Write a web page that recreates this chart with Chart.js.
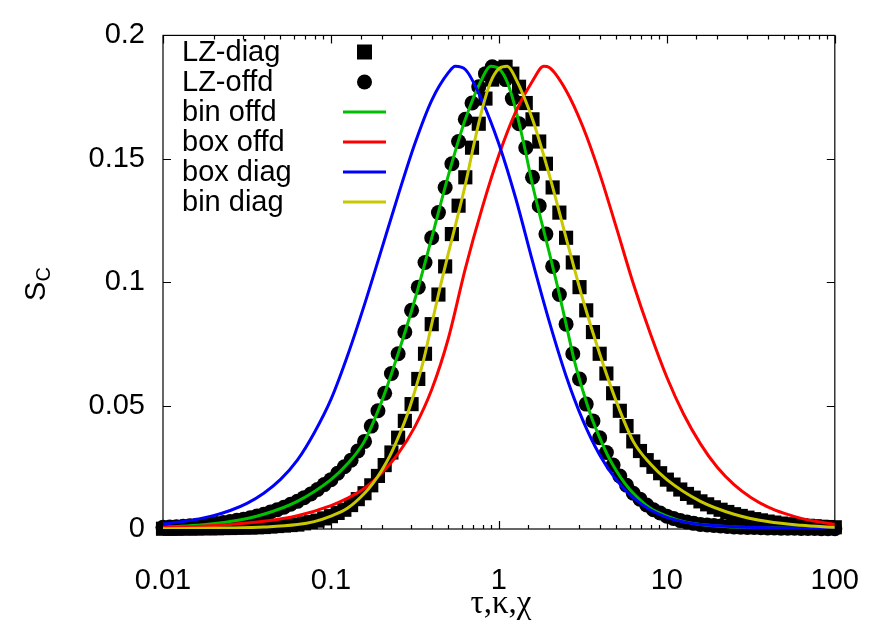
<!DOCTYPE html>
<html>
<head>
<meta charset="utf-8">
<script src="https://cdn.jsdelivr.net/npm/chart.js@4.4.0/dist/chart.umd.min.js"></script>
<style>
  html, body { margin: 0; padding: 0; background: #fff; }
</style>
</head>
<body>
<canvas id="scChart" width="894" height="626"></canvas>
<script>
// ------- data -------

// log-spaced tau grid of the LZ points (25 per decade)
const tau = [
  0.01, 0.01096, 0.01202, 0.01318, 0.01445, 0.01585, 0.01738, 0.01905, 0.02089, 0.02291,
  0.02512, 0.02754, 0.0302, 0.03311, 0.03631, 0.03981, 0.04365, 0.04786, 0.05248, 0.05754,
  0.0631, 0.06918, 0.07586, 0.08318, 0.0912,
  0.1, 0.1096, 0.1202, 0.1318, 0.1445, 0.1585, 0.1738, 0.1905, 0.2089, 0.2291,
  0.2512, 0.2754, 0.302, 0.3311, 0.3631, 0.3981, 0.4365, 0.4786, 0.5248, 0.5754,
  0.631, 0.6918, 0.7586, 0.8318, 0.912,
  1, 1.096, 1.202, 1.318, 1.445, 1.585, 1.738, 1.905, 2.089, 2.291,
  2.512, 2.754, 3.02, 3.311, 3.631, 3.981, 4.365, 4.786, 5.248, 5.754,
  6.31, 6.918, 7.586, 8.318, 9.12,
  10, 10.96, 12.02, 13.18, 14.45, 15.85, 17.38, 19.05, 20.89, 22.91,
  25.12, 27.54, 30.2, 33.11, 36.31, 39.81, 43.65, 47.86, 52.48, 57.54,
  63.1, 69.18, 75.86, 83.18, 91.2,
  100
];

const lzDiag = [
  0.0001, 0.0001, 0.0001, 0.0002, 0.0002, 0.0002, 0.0003, 0.0003, 0.0003, 0.0004,
  0.0004, 0.0005, 0.0006, 0.0006, 0.0007, 0.0008, 0.0010, 0.0012, 0.0014, 0.0016,
  0.0018, 0.0023, 0.0028, 0.0034, 0.0043, 0.0052, 0.0065, 0.0078, 0.0097, 0.0121,
  0.0145, 0.0177, 0.0215, 0.0259, 0.0310, 0.0370, 0.0438, 0.0506, 0.0608, 0.0710,
  0.0830, 0.0950, 0.1064, 0.1195, 0.1310, 0.1425, 0.1545, 0.1642, 0.1744, 0.1821,
  0.1865, 0.1873, 0.1845, 0.1792, 0.1726, 0.1660, 0.1570, 0.1480, 0.1384, 0.1282,
  0.1180, 0.1080, 0.0980, 0.0886, 0.0798, 0.0710, 0.0630, 0.0550, 0.0479, 0.0417,
  0.0355, 0.0316, 0.0279, 0.0252, 0.0226, 0.0200, 0.0180, 0.0160, 0.0142, 0.0127,
  0.0112, 0.0100, 0.0088, 0.0078, 0.0069, 0.0060, 0.0053, 0.0046, 0.0040, 0.0035,
  0.0030, 0.0026, 0.0022, 0.0019, 0.0017, 0.0015, 0.0013, 0.0011, 0.0009, 0.0008,
  0.0007
];

const lzOffd = [
  0.0007, 0.0008, 0.0009, 0.0011, 0.0013, 0.0015, 0.0017, 0.0019, 0.0022, 0.0026,
  0.0030, 0.0035, 0.0040, 0.0046, 0.0053, 0.0060, 0.0069, 0.0078, 0.0088, 0.0100,
  0.0112, 0.0127, 0.0142, 0.0160, 0.0180, 0.0200, 0.0226, 0.0252, 0.0279, 0.0316,
  0.0355, 0.0417, 0.0479, 0.0550, 0.0630, 0.0710, 0.0798, 0.0886, 0.0980, 0.1080,
  0.1180, 0.1282, 0.1384, 0.1480, 0.1570, 0.1660, 0.1726, 0.1792, 0.1845, 0.1873,
  0.1865, 0.1821, 0.1744, 0.1642, 0.1545, 0.1425, 0.1310, 0.1195, 0.1064, 0.0950,
  0.0830, 0.0710, 0.0608, 0.0506, 0.0438, 0.0370, 0.0310, 0.0259, 0.0215, 0.0177,
  0.0145, 0.0121, 0.0097, 0.0078, 0.0065, 0.0052, 0.0043, 0.0034, 0.0028, 0.0023,
  0.0018, 0.0016, 0.0014, 0.0012, 0.0010, 0.0008, 0.0007, 0.0006, 0.0006, 0.0005,
  0.0004, 0.0004, 0.0003, 0.0003, 0.0003, 0.0002, 0.0002, 0.0002, 0.0001, 0.0001,
  0.0001
];

const binOffdX = [0.01, 0.0158, 0.0251, 0.0398, 0.0631, 0.1, 0.1259, 0.158, 0.2, 0.251,
  0.316, 0.398, 0.501, 0.631, 0.794, 0.891, 1, 1.122, 1.259, 1.413, 1.585, 1.778, 1.995,
  2.239, 2.512, 2.818, 3.162, 3.548, 3.981, 4.467, 5.012, 5.623, 6.31, 7.943, 10, 12.59,
  15.85, 25.12, 39.81, 100];
const binOffdY = [0.0007, 0.0015, 0.0030, 0.0060, 0.0112, 0.0200, 0.0265, 0.0355, 0.0515, 0.071,
  0.093, 0.118, 0.1435, 0.166, 0.1825, 0.1875, 0.1865, 0.181, 0.170, 0.1555, 0.1395, 0.1255, 0.112,
  0.098, 0.083, 0.068, 0.056, 0.0455, 0.037, 0.0295, 0.0235, 0.0185, 0.0145, 0.0085, 0.0052, 0.003,
  0.0018, 0.0008, 0.0004, 0.0001];

const binDiagX = [0.01, 0.0251, 0.0398, 0.0631, 0.0794, 0.1, 0.1259, 0.1585, 0.1778, 0.1995,
  0.2239, 0.2512, 0.2818, 0.3162, 0.3548, 0.3981, 0.4467, 0.5012, 0.5623, 0.631, 0.7079,
  0.7943, 0.8913, 1, 1.122, 1.259, 1.585, 1.995, 2.512, 3.162, 3.981, 5.012, 6.31, 7.943,
  10, 15.85, 25.12, 39.81, 63.1, 100];
const binDiagY = [0.0001, 0.0004, 0.0008, 0.0018, 0.003, 0.0052, 0.0085, 0.0145, 0.0185, 0.0235,
  0.0295, 0.037, 0.0455, 0.056, 0.068, 0.083, 0.098, 0.112, 0.1255, 0.1395, 0.1555,
  0.170, 0.181, 0.1865, 0.1875, 0.1825, 0.166, 0.1435, 0.118, 0.093, 0.071, 0.0515, 0.0355, 0.0265,
  0.0200, 0.0112, 0.0060, 0.0030, 0.0015, 0.0007];

const boxDiagX = [0.01, 0.01259, 0.01585, 0.01995, 0.02512, 0.03162, 0.03981, 0.05012, 0.0631,
  0.07943, 0.1, 0.1259, 0.1585, 0.1995, 0.2512, 0.3162, 0.3981, 0.5012, 0.55, 0.631, 0.7943,
  1, 1.259, 1.585, 1.995, 2.512, 3.162, 3.981, 5.012, 6.31, 7.943, 10, 12.59, 15.85, 25.12,
  39.81, 100];
const boxDiagY = [0.0020, 0.0028, 0.0039, 0.0054, 0.0075, 0.0104, 0.0145, 0.0201, 0.0279,
  0.0389, 0.0525, 0.0705, 0.0910, 0.1130, 0.1352, 0.1562, 0.1737, 0.1850, 0.1875, 0.1862, 0.1735,
  0.1560, 0.1340, 0.1085, 0.0840, 0.0620, 0.0440, 0.0300, 0.0198, 0.0127, 0.0078, 0.0047, 0.0029,
  0.0018, 0.0009, 0.0005, 0.0003];

const boxOffdX = [0.01, 0.01585, 0.02512, 0.03981, 0.0631, 0.1, 0.1259, 0.1585, 0.1995, 0.2512,
  0.3162, 0.3981, 0.5012, 0.631, 0.7943, 1, 1.259, 1.585, 1.85, 1.995, 2.512, 3.162, 3.981,
  5.012, 6.31, 7.943, 10, 12.59, 15.85, 19.95, 25.12, 31.62, 39.81, 50.12, 63.1, 79.43, 100];
const boxOffdY = [0.0006, 0.0010, 0.0018, 0.0031, 0.0054, 0.0095, 0.0125, 0.0165, 0.0225, 0.0305,
  0.0415, 0.0565, 0.0775, 0.1055, 0.1300, 0.1515, 0.1690, 0.1815, 0.1875, 0.1870, 0.1777, 0.1630,
  0.1440, 0.1220, 0.0995, 0.0795, 0.0615, 0.0465, 0.0345, 0.0250, 0.0180, 0.0128, 0.0090, 0.0063,
  0.0043, 0.0029, 0.0019];

const decadeLabels = ['0.01', '0.1', '1', '10', '100'];
const yTicks = [0, 0.05, 0.1, 0.15, 0.2];

// ------- helpers -------
const pts = (xs, ys) => xs.map((v, i) => ({x: v, y: ys[i]}));
const FONT = '"Liberation Sans", Arial, sans-serif';

function lineSet(label, xs, ys, color, order) {
  return {
    label: label,
    data: pts(xs, ys),
    showLine: true,
    borderColor: color,
    backgroundColor: color,
    borderWidth: 3,
    pointRadius: 0,
    cubicInterpolationMode: 'monotone',
    order: order
  };
}

// frame + inward gnuplot style ticks
const framePlugin = {
  id: 'frame',
  beforeDatasetsDraw(chart) {
    const {ctx, chartArea: a, scales: {x, y}} = chart;
    ctx.save();
    ctx.strokeStyle = '#000';
    ctx.lineWidth = 1.2;
    ctx.beginPath();
    x.ticks.forEach(t => {
      const px = Math.round(x.getPixelForValue(t.value)) + 0.5;
      const l10 = Math.log10(t.value);
      const len = Math.abs(l10 - Math.round(l10)) < 1e-6 ? 8 : 4;
      ctx.moveTo(px, a.bottom); ctx.lineTo(px, a.bottom - len);
      ctx.moveTo(px, a.top); ctx.lineTo(px, a.top + len);
    });
    y.ticks.forEach(t => {
      const py = Math.round(y.getPixelForValue(t.value)) + 0.5;
      ctx.moveTo(a.left, py); ctx.lineTo(a.left + 8, py);
      ctx.moveTo(a.right, py); ctx.lineTo(a.right - 8, py);
    });
    ctx.stroke();
    ctx.strokeRect(a.left, a.top, a.right - a.left, a.bottom - a.top);
    ctx.restore();
  }
};

// key in the top left corner, text left and sample right
const keyPlugin = {
  id: 'key',
  afterDatasetsDraw(chart) {
    const ctx = chart.ctx;
    ctx.save();
    ctx.font = '29px ' + FONT;
    ctx.textBaseline = 'middle';
    ctx.textAlign = 'left';
    chart.data.datasets.forEach((ds, i) => {
      const cy = 52 + i * 30;
      ctx.fillStyle = '#000';
      ctx.fillText(ds.label, 182, cy + 1);
      const cx = 364.5;
      if (ds.showLine) {
        ctx.strokeStyle = ds.borderColor;
        ctx.lineWidth = 3;
        ctx.beginPath();
        ctx.moveTo(343, cy); ctx.lineTo(386, cy);
        ctx.stroke();
      } else if (ds.pointStyle === 'rect') {
        ctx.fillRect(cx - 7.5, cy - 7.5, 15, 15);
      } else {
        ctx.beginPath();
        ctx.arc(cx, cy, 7.5, 0, Math.PI * 2);
        ctx.fill();
      }
    });
    ctx.restore();
  }
};

// axis titles: S_C (rotated, subscript) and tau,kappa,chi
const titlePlugin = {
  id: 'titles',
  afterDraw(chart) {
    const ctx = chart.ctx;
    ctx.save();
    ctx.fillStyle = '#000';
    ctx.font = '33px "Liberation Serif", "Times New Roman", serif';
    ctx.textAlign = 'center';
    ctx.textBaseline = 'alphabetic';
    ctx.fillText('\u03c4,\u03ba,\u03c7', 501, 613);

    ctx.translate(45, 284);
    ctx.rotate(-Math.PI / 2);
    ctx.textAlign = 'left';
    ctx.font = '29px ' + FONT;
    const wS = ctx.measureText('S').width;
    ctx.font = '20px ' + FONT;
    const wC = ctx.measureText('C').width;
    const x0 = -(wS + wC) / 2;
    ctx.font = '29px ' + FONT;
    ctx.fillText('S', x0, 0);
    ctx.font = '20px ' + FONT;
    ctx.fillText('C', x0 + wS, 5);
    ctx.restore();
  }
};

const data = {
  datasets: [
    {
      label: 'LZ-diag',
      data: pts(tau, lzDiag),
      showLine: false,
      pointStyle: 'rect',
      pointRadius: 10,
      pointBorderWidth: 0,
      backgroundColor: '#000',
      borderColor: '#000',
      clip: false,
      order: 6
    },
    {
      label: 'LZ-offd',
      data: pts(tau, lzOffd),
      showLine: false,
      pointStyle: 'circle',
      pointRadius: 7.5,
      pointBorderWidth: 0,
      backgroundColor: '#000',
      borderColor: '#000',
      clip: false,
      order: 5
    },
    lineSet('bin offd', binOffdX, binOffdY, '#00c000', 4),
    lineSet('box offd', boxOffdX, boxOffdY, '#ff0000', 3),
    lineSet('box diag', boxDiagX, boxDiagY, '#0000ff', 2),
    lineSet('bin diag', binDiagX, binDiagY, '#c8c800', 1)
  ]
};

const config = {
  type: 'scatter',
  data: data,
  options: {
    responsive: false,
    animation: false,
    events: [],
    layout: { padding: { top: 30, right: 54, left: 0, bottom: 0 } },
    plugins: {
      legend: { display: false },
      tooltip: { enabled: false },
      title: { display: false }
    },
    scales: {
      x: {
        type: 'logarithmic',
        position: 'bottom',
        min: 0.01,
        max: 100,
        grid: { display: false, drawTicks: false },
        border: { display: false },
        ticks: {
          autoSkip: false,
          maxRotation: 0,
          padding: 35,
          color: '#000',
          font: { family: FONT, size: 29 },
          callback: (v) => {
            const l = Math.log10(v);
            if (Math.abs(l - Math.round(l)) > 1e-6) return '';
            return decadeLabels[Math.round(l) + 2];
          }
        },
        afterFit: (s) => { s.height = 97; }
      },
      y: {
        min: 0,
        max: 0.2,
        grid: { display: false, drawTicks: false },
        border: { display: false },
        afterBuildTicks: (s) => { s.ticks = yTicks.map(v => ({value: v})); },
        ticks: {
          padding: 18,
          color: '#000',
          font: { family: FONT, size: 29 },
          callback: (v) => String(+v.toFixed(2))
        },
        afterFit: (s) => { s.width = 163; }
      }
    }
  },
  plugins: [framePlugin, keyPlugin, titlePlugin]
};

const myChart = new Chart(document.getElementById('scChart'), config);
</script>
</body>
</html>
